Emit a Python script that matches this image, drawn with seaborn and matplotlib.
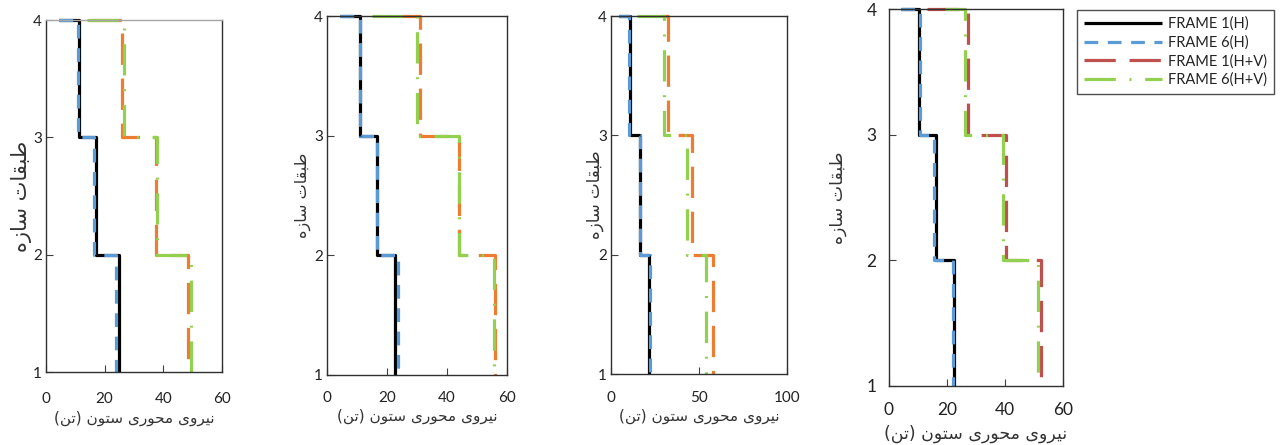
import matplotlib
matplotlib.use("Agg")
import matplotlib.pyplot as plt
import seaborn as sns
import pandas as pd

# Column axial force (ton) per frame: [roof start, storey 3-4, storey 2-3, storey 1-2]
frame1_h = [[4.3, 11.2, 17.2, 24.9], [4.4, 11.1, 16.7, 22.8],
            [4.3, 10.6, 16.3, 21.4], [4.2, 10.3, 16.2, 22.5]]
frame6_h = [[4.3, 10.8, 16.3, 23.8], [4.4, 10.9, 16.5, 23.5],
            [4.3, 10.0, 16.6, 22.0], [4.2, 10.6, 15.6, 22.1]]
frame1_hv = [[15.0, 25.9, 37.6, 48.5], [25.0, 30.9, 44.1, 56.1],
             [29.0, 32.2, 46.0, 58.0], [13.0, 27.3, 40.2, 52.5]]
frame6_hv = [[14.0, 26.5, 38.0, 49.6], [15.0, 30.0, 44.0, 55.5],
             [14.8, 30.3, 43.2, 54.0], [19.4, 26.3, 39.2, 51.3]]

series_names = ["FRAME 1(H)", "FRAME 6(H)", "FRAME 1(H+V)", "FRAME 6(H+V)"]
storeys = [1, 2, 3, 4]
x_limits = [60, 60, 100, 60]
x_ticks = [[0, 20, 40, 60], [0, 20, 40, 60], [0, 50, 100], [0, 20, 40, 60]]

x_label = "نیروی محوری ستون (تن)"
y_label = "طبقات سازه"

# Arabic-script contextual forms: isolated, final, initial, medial
FORMS = {
    "ا": ("\uFE8D", "\uFE8E", None, None),
    "ب": ("\uFE8F", "\uFE90", "\uFE91", "\uFE92"),
    "ت": ("\uFE95", "\uFE96", "\uFE97", "\uFE98"),
    "ح": ("\uFEA1", "\uFEA2", "\uFEA3", "\uFEA4"),
    "ر": ("\uFEAD", "\uFEAE", None, None),
    "ز": ("\uFEAF", "\uFEB0", None, None),
    "س": ("\uFEB1", "\uFEB2", "\uFEB3", "\uFEB4"),
    "ط": ("\uFEC1", "\uFEC2", "\uFEC3", "\uFEC4"),
    "ق": ("\uFED5", "\uFED6", "\uFED7", "\uFED8"),
    "م": ("\uFEE1", "\uFEE2", "\uFEE3", "\uFEE4"),
    "ن": ("\uFEE5", "\uFEE6", "\uFEE7", "\uFEE8"),
    "ه": ("\uFEE9", "\uFEEA", "\uFEEB", "\uFEEC"),
    "و": ("\uFEED", "\uFEEE", None, None),
    "ی": ("\uFBFC", "\uFBFD", "\uFBFE", "\uFBFF"),
}


def shape_rtl(text):
    out = []
    for i, ch in enumerate(text):
        if ch not in FORMS:
            out.append(ch)
            continue
        iso, fin, ini, med = FORMS[ch]
        prev = text[i - 1] if i > 0 else ""
        nxt = text[i + 1] if i < len(text) - 1 else ""
        jp = prev in FORMS and FORMS[prev][2] is not None
        jn = ini is not None and nxt in FORMS
        out.append(med if (jp and jn) else fin if jp else ini if jn else iso)
    visual = "".join(reversed(out))
    return visual.translate(str.maketrans("()", ")("))


sns.set_theme(style="white")
plt.rcParams["font.family"] = ["Lato", "DejaVu Sans"]

W, H = 1280, 445
fig = plt.figure(figsize=(W / 100, H / 100), dpi=100)

# axes boxes in pixels: left, right, top, bottom
boxes = [(46, 222, 20, 372), (327, 507, 16, 375), (611, 787, 16, 374), (889, 1063, 9, 386)]
ylabel_x = [22, 303, 595, 838]
xlabel_y = [418, 416, 416, 434]
ticklab_y = [399, 398, 398, 410]
ylabel_fs = [15, 11.5, 12, 12.5]
xlabel_fs = [11, 11, 11, 12.5]
tick_fs = [11, 11, 11, 12.5]

colors_hv1 = ["#ED7D31", "#ED7D31", "#ED7D31", "#C0504D"]
lw = 2.3
dash_styles = [None, (4.3, 3.0), (9.8, 4.3), (9.8, 4.3, 0.6, 4.3)]

legend_handles = None
for p, (l, r, t, b) in enumerate(boxes):
    ax = fig.add_axes([l / W, 1 - b / H, (r - l) / W, (b - t) / H])
    colors = ["#000000", "#5B9BD5", colors_hv1[p], "#92D050"]
    handles = []
    for k, data in enumerate([frame1_h, frame6_h, frame1_hv, frame6_hv]):
        v = data[p]
        xs = [v[0], v[1], v[1], v[2], v[2], v[3], v[3]]
        ys = [storeys[3], storeys[3], storeys[2], storeys[2], storeys[1], storeys[1], storeys[0]]
        df = pd.DataFrame({"force": xs, "storey": ys})
        sns.lineplot(data=df, x="force", y="storey", ax=ax, sort=False,
                     estimator=None, color=colors[k], lw=lw, clip_on=False,
                     solid_capstyle="butt", dash_capstyle="butt")
        line = ax.lines[-1]
        if dash_styles[k] is not None:
            line.set_dashes(dash_styles[k])
        handles.append(line)
    legend_handles = handles
    if ax.get_legend() is not None:
        ax.get_legend().remove()

    ax.set_xlim(0, x_limits[p])
    ax.set_ylim(1, 4)
    ax.set_xticks(x_ticks[p])
    ax.set_yticks(storeys)
    fs = tick_fs[p]
    ax.tick_params(axis="both", direction="in", length=5, width=0.8,
                   color="#404040", labelsize=fs, labelcolor="#222222")
    ax.tick_params(axis="x", pad=(ticklab_y[p] - b) * 0.72 - fs * 0.45)
    ax.tick_params(axis="y", pad=3 if p < 3 else 9)
    ax.tick_params(axis="both", bottom=True, left=True)
    for side, sp in ax.spines.items():
        sp.set_color("#303030")
        sp.set_linewidth(1.0)
    if p == 0:
        ax.spines["top"].set_color("#a6a6a6")

    ax.set_xlabel(shape_rtl(x_label), fontsize=xlabel_fs[p], family="DejaVu Sans", color="#333333")
    ax.xaxis.set_label_coords(0.5, (b - xlabel_y[p]) / (b - t))
    ax.xaxis.label.set_va("center")
    ax.set_ylabel(shape_rtl(y_label), fontsize=ylabel_fs[p], family="DejaVu Sans", color="#333333")
    ax.yaxis.set_label_coords((ylabel_x[p] - l) / (r - l), 0.5)
    ax.yaxis.label.set_va("center")

leg = fig.legend(handles=legend_handles, labels=series_names, loc="upper left",
                 bbox_to_anchor=(1077 / W, 1 - 10 / H), frameon=True, fancybox=False,
                 fontsize=10.5, handlelength=5.4, handletextpad=0.4, labelspacing=0.3,
                 borderpad=0.45, borderaxespad=0)
leg.get_frame().set_edgecolor("#222222")
leg.get_frame().set_linewidth(1.0)
for txt in leg.get_texts():
    txt.set_color("#222222")

fig.savefig("out.png", dpi=100)
